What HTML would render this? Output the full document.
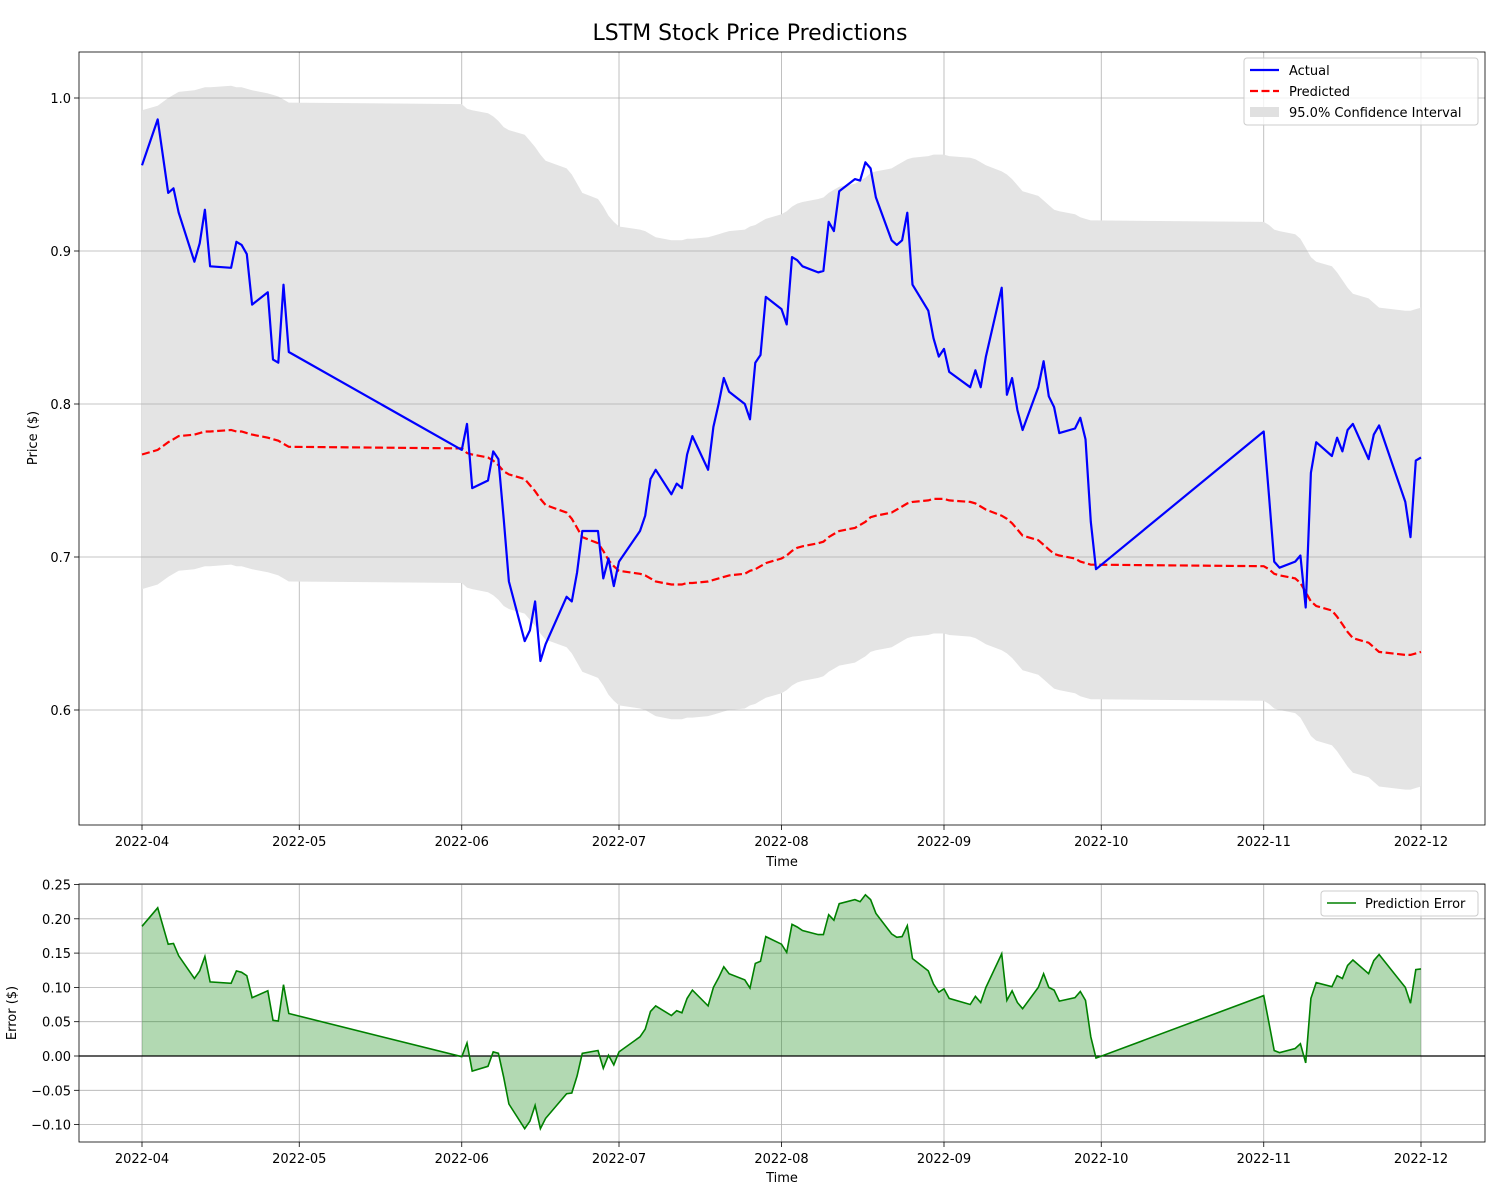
<!DOCTYPE html>
<html><head><meta charset="utf-8"><style>
html,body{margin:0;padding:0;background:#fff;}
svg{display:block;font-family:"DejaVu Sans","Liberation Sans",sans-serif;}
</style></head><body>
<svg id="chart" width="1500" height="1200" viewBox="0 0 1500 1200">
<rect width="1500" height="1200" fill="#fff"/>
<text x="750" y="40" text-anchor="middle" font-size="22" fill="#000">LSTM Stock Price Predictions</text>
<g id="topPanel"></g>
<g id="botPanel"></g>
</svg>
<script>
const dates = ["2022-04-01","2022-04-04","2022-04-06","2022-04-07","2022-04-08","2022-04-11","2022-04-12","2022-04-13","2022-04-14","2022-04-18","2022-04-19","2022-04-20","2022-04-21","2022-04-22","2022-04-25","2022-04-26","2022-04-27","2022-04-28","2022-04-29",
"2022-06-01","2022-06-02","2022-06-03","2022-06-06","2022-06-07","2022-06-08","2022-06-09","2022-06-10","2022-06-13","2022-06-14","2022-06-15","2022-06-16","2022-06-17","2022-06-21","2022-06-22","2022-06-23","2022-06-24","2022-06-27","2022-06-28","2022-06-29","2022-06-30",
"2022-07-01","2022-07-05","2022-07-06","2022-07-07","2022-07-08","2022-07-11","2022-07-12","2022-07-13","2022-07-14","2022-07-15","2022-07-18","2022-07-19","2022-07-20","2022-07-21","2022-07-22","2022-07-25","2022-07-26","2022-07-27","2022-07-28","2022-07-29",
"2022-08-01","2022-08-02","2022-08-03","2022-08-04","2022-08-05","2022-08-08","2022-08-09","2022-08-10","2022-08-11","2022-08-12","2022-08-15","2022-08-16","2022-08-17","2022-08-18","2022-08-19","2022-08-22","2022-08-23","2022-08-24","2022-08-25","2022-08-26","2022-08-29","2022-08-30","2022-08-31",
"2022-09-01","2022-09-02","2022-09-06","2022-09-07","2022-09-08","2022-09-09","2022-09-12","2022-09-13","2022-09-14","2022-09-15","2022-09-16","2022-09-19","2022-09-20","2022-09-21","2022-09-22","2022-09-23","2022-09-26","2022-09-27","2022-09-28","2022-09-29","2022-09-30",
"2022-11-01","2022-11-02","2022-11-03","2022-11-04","2022-11-07","2022-11-08","2022-11-09","2022-11-10","2022-11-11","2022-11-14","2022-11-15","2022-11-16","2022-11-17","2022-11-18","2022-11-21","2022-11-22","2022-11-23","2022-11-28","2022-11-29","2022-11-30","2022-12-01"];
const actual = [.956,.986,.938,.941,.925,.893,.905,.927,.890,.889,.906,.904,.898,.865,.873,.829,.827,.878,.834,
.770,.787,.745,.750,.769,.764,.725,.684,.645,.652,.671,.632,.643,.674,.671,.690,.717,.717,.686,.699,.681,
.697,.717,.727,.751,.757,.741,.748,.745,.767,.779,.757,.785,.800,.817,.808,.800,.790,.827,.832,.870,
.862,.852,.896,.894,.890,.886,.887,.919,.913,.939,.947,.946,.958,.954,.935,.907,.904,.907,.925,.878,.861,.843,.831,
.836,.821,.811,.822,.811,.831,.876,.806,.817,.796,.783,.811,.828,.805,.798,.781,.784,.791,.777,.723,.692,
.782,.740,.697,.693,.697,.701,.667,.755,.775,.766,.778,.769,.783,.787,.764,.780,.786,.736,.713,.763,.765];
const predicted = [.767,.770,.775,.777,.779,.780,.781,.782,.782,.783,.782,.782,.781,.780,.778,.777,.776,.774,.772,
.771,.768,.767,.765,.763,.760,.756,.754,.751,.747,.743,.738,.734,.729,.725,.719,.713,.709,.704,.698,.694,
.691,.689,.688,.686,.684,.682,.682,.682,.683,.683,.684,.685,.686,.687,.688,.689,.691,.692,.694,.696,
.699,.701,.704,.706,.707,.709,.710,.713,.715,.717,.719,.721,.723,.726,.727,.729,.731,.733,.735,.736,.737,.738,.738,
.738,.737,.736,.735,.733,.731,.727,.725,.722,.718,.714,.711,.708,.705,.702,.701,.699,.697,.696,.695,.695,
.694,.692,.689,.688,.686,.683,.677,.671,.668,.665,.661,.656,.651,.647,.644,.641,.638,.636,.636,.637,.638];
const ciUpperOffset = 0.225;
const ciLowerOffset = 0.088;
const xTickLabels = ["2022-04","2022-05","2022-06","2022-07","2022-08","2022-09","2022-10","2022-11","2022-12"];
const priceTicks = [0.6,0.7,0.8,0.9,1.0];
const errorTicks = [-0.10,-0.05,0.00,0.05,0.10,0.15,0.20,0.25];

const NS="http://www.w3.org/2000/svg";
function mk(parent,tag,attrs,name,text){const e=document.createElementNS(NS,tag);for(const k in attrs)e.setAttribute(k,attrs[k]);


if(text!==undefined)e.textContent=text;parent.appendChild(e);return e;}
const PL=79,PR=1485;
const t0=Date.parse("2022-04-01"),t1=Date.parse("2022-12-01");
const X0=142,X1=1421;
function xs(d){const t=Date.parse(d.length===7?d+"-01":d);return X0+(t-t0)/(t1-t0)*(X1-X0);}
const topT=52,topB=825;
function ys(v){return 98+(1.0-v)/0.1*153;}
const botT=884,botB=1142;
function ye(v){return 1056-v/0.05*34.3;}
const topG=document.getElementById('topPanel'),botG=document.getElementById('botPanel');
function pathFrom(xsArr,ysArr){return xsArr.map((x,i)=>(i?'L':'M')+x.toFixed(1)+','+ysArr[i].toFixed(1)).join('');}

const px=dates.map(xs);
xTickLabels.forEach(l=>{const x=xs(l);
mk(topG,'line',{x1:x,x2:x,y1:topT,y2:topB,stroke:'#b0b0b0','stroke-width':0.8},'x-grid-line');
mk(topG,'line',{x1:x,x2:x,y1:topB,y2:topB+5,stroke:'#000','stroke-width':0.8},'x-tick');
mk(topG,'text',{x:x,y:topB+21,'text-anchor':'middle','font-size':13},'x-tick-label',l);
mk(botG,'line',{x1:x,x2:x,y1:botT,y2:botB,stroke:'#b0b0b0','stroke-width':0.8},'x-grid-line');
mk(botG,'line',{x1:x,x2:x,y1:botB,y2:botB+5,stroke:'#000','stroke-width':0.8},'x-tick');
mk(botG,'text',{x:x,y:botB+21,'text-anchor':'middle','font-size':13},'x-tick-label',l);
});
const up=predicted.map(v=>ys(v+ciUpperOffset)),lo=predicted.map(v=>ys(v-ciLowerOffset));
let bp=pathFrom(px,up);for(let i=px.length-1;i>=0;i--)bp+='L'+px[i].toFixed(1)+','+lo[i].toFixed(1);
mk(topG,'path',{d:bp+'Z',fill:'#e4e4e4',stroke:'none'},'confidence-band');
priceTicks.forEach(v=>{const y=ys(v);
mk(topG,'line',{x1:PL,x2:PR,y1:y,y2:y,stroke:'#b0b0b0','stroke-width':0.8},'y-grid-line');
mk(topG,'line',{x1:PL-5,x2:PL,y1:y,y2:y,stroke:'#000','stroke-width':0.8},'y-tick');
mk(topG,'text',{x:PL-8,y:y+5,'text-anchor':'end','font-size':13},'y-tick-label',v.toFixed(1));
});
mk(topG,'path',{d:pathFrom(px,predicted.map(ys)),fill:'none',stroke:'#ff0000','stroke-width':2.2,'stroke-dasharray':'8,3.5'},'predicted-line');
mk(topG,'path',{d:pathFrom(px,actual.map(ys)),fill:'none',stroke:'#0000ff','stroke-width':2.2,'stroke-linejoin':'round'},'actual-line');
mk(topG,'rect',{x:PL,y:topT,width:PR-PL,height:topB-topT,fill:'none',stroke:'#000','stroke-width':0.8},'plot-frame');
mk(topG,'text',{x:782,y:866,'text-anchor':'middle','font-size':13},'x-axis-title','Time');
mk(topG,'text',{x:37,y:438,'text-anchor':'middle','font-size':13,transform:'rotate(-90 37 438)'},'y-axis-title','Price ($)');
mk(topG,'rect',{x:1244,y:58,width:234,height:67,rx:3,fill:'#fff','fill-opacity':0.8,stroke:'#ccc'},'legend-box');
mk(topG,'line',{x1:1250,x2:1279,y1:70,y2:70,stroke:'#0000ff','stroke-width':2.2},'legend-actual-swatch');
mk(topG,'text',{x:1289,y:75,'font-size':13},'legend-actual-label','Actual');
mk(topG,'line',{x1:1250,x2:1279,y1:91,y2:91,stroke:'#ff0000','stroke-width':2.2,'stroke-dasharray':'8,3.5'},'legend-predicted-swatch');
mk(topG,'text',{x:1289,y:96,'font-size':13},'legend-predicted-label','Predicted');
mk(topG,'rect',{x:1250,y:107,width:29,height:10,fill:'#e0e0e0'},'legend-ci-swatch');
mk(topG,'text',{x:1289,y:117,'font-size':13},'legend-ci-label','95.0% Confidence Interval');

const err=actual.map((a,i)=>a-predicted[i]);
const ey=err.map(ye);
errorTicks.forEach(v=>{const y=ye(v);
mk(botG,'line',{x1:PL,x2:PR,y1:y,y2:y,stroke:'#b0b0b0','stroke-width':0.8},'y-grid-line');
mk(botG,'line',{x1:PL-5,x2:PL,y1:y,y2:y,stroke:'#000','stroke-width':0.8},'y-tick');
mk(botG,'text',{x:PL-8,y:y+5,'text-anchor':'end','font-size':13},'y-tick-label',v.toFixed(2).replace('-','\u2212'));
});
let fp=pathFrom(px,ey)+'L'+px[px.length-1]+','+ye(0)+'L'+px[0]+','+ye(0)+'Z';
mk(botG,'path',{d:fp,fill:'#008000','fill-opacity':0.3,stroke:'none'},'error-fill');
mk(botG,'line',{x1:PL,x2:PR,y1:ye(0),y2:ye(0),stroke:'#000','stroke-width':1.2},'zero-line');
mk(botG,'path',{d:pathFrom(px,ey),fill:'none',stroke:'#008000','stroke-width':1.6},'error-line');
mk(botG,'rect',{x:PL,y:botT,width:PR-PL,height:botB-botT,fill:'none',stroke:'#000','stroke-width':0.8},'error-frame');
mk(botG,'text',{x:782,y:1182,'text-anchor':'middle','font-size':13},'x-axis-title','Time');
mk(botG,'text',{x:16,y:1013,'text-anchor':'middle','font-size':13,transform:'rotate(-90 16 1013)'},'y-axis-title','Error ($)');
mk(botG,'rect',{x:1321,y:891,width:157,height:25,rx:3,fill:'#fff','fill-opacity':0.8,stroke:'#ccc'},'error-legend-box');
mk(botG,'line',{x1:1327,x2:1356,y1:903,y2:903,stroke:'#008000','stroke-width':1.6},'legend-error-swatch');
mk(botG,'text',{x:1365,y:908,'font-size':13},'legend-error-label','Prediction Error');
</script>
</body></html>
